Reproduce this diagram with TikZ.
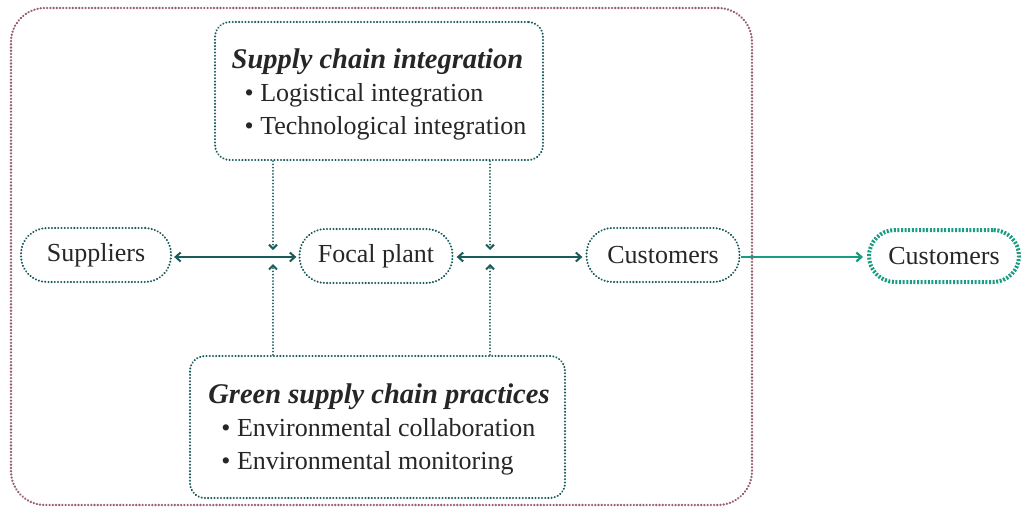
\documentclass[tikz,border=0pt]{standalone}
\usepackage{fontspec}
\setmainfont{Liberation Serif}
\usetikzlibrary{arrows.meta,calc}
\definecolor{mauve}{HTML}{9A5E74}
\definecolor{tealdark}{HTML}{1A5C5C}
\definecolor{tealbright}{HTML}{1A9C82}
\newcommand{\hd}[1]{{\fontsize{28.5}{33}\selectfont\textbf{\textit{#1}}}}
\begin{document}
\begin{tikzpicture}[x=1pt,y=1pt,
  dots/.style={line width=2.3pt,line cap=round,dash pattern=on 0.01pt off 3.2pt},
  box/.style={draw=tealdark,dots,rounded corners=15pt,inner sep=0pt},
  pill/.style={draw=tealdark,dots,rounded corners=26pt,minimum height=54pt,inner sep=0pt},
  link/.style={draw=tealdark,line width=2pt,{Straight Barb[length=5pt,width=9pt]}-{Straight Barb[length=5pt,width=9pt]}},
  vlink/.style={draw=tealdark,dots,line width=2pt,-{Straight Barb[length=4pt,width=8pt,line cap=butt]}},
  txt/.style={font=\fontsize{26}{33}\selectfont,text=black!85}
]
\useasboundingbox (0,0) rectangle (1022,-509);
\node[draw=mauve,dots,line width=2.6pt,rounded corners=34pt,minimum width=741pt,minimum height=497pt,inner sep=0pt] (outer) at (381.5,-256.5) {};
\node[box,minimum width=328pt,minimum height=138pt] (sci) at (379,-91) {};
\node[txt,inner sep=0pt] (scit) at (379,-95)
  {\begin{tabular}{@{}l@{}}\hd{Supply chain integration}\\\hspace{13pt}• Logistical integration\\\hspace{13pt}• Technological integration\end{tabular}};
\node[box,minimum width=375pt,minimum height=142pt] (gscp) at (377.5,-427) {};
\node[txt,inner sep=0pt] (gscpt) at (379,-429.5)
  {\begin{tabular}{@{}l@{}}\hd{Green supply chain practices}\\\hspace{13pt}• Environmental collaboration\\\hspace{13pt}• Environmental monitoring\end{tabular}};
\node[pill,minimum width=150pt,txt] (sup) at (96,-255) {Suppliers};
\node[pill,minimum width=153pt,txt] (focal) at (376,-256) {Focal plant};
\node[pill,minimum width=153pt,txt] (cust) at (663,-255) {Customers};
\node[draw=tealbright,line width=4pt,dash pattern=on 2pt off 1.6pt,rounded corners=26pt,minimum height=52pt,minimum width=150pt,inner sep=0pt,txt] (cust2) at (944,-256) {Customers};
\coordinate (ly) at (0,-257);
\draw[link] ([xshift=2pt]sup.east |- ly) -- ([xshift=-2pt]focal.west |- ly);
\draw[link] ([xshift=3pt]focal.east |- ly) -- ([xshift=-3pt]cust.west |- ly);
\draw[draw=tealbright,line width=2.2pt,-{Straight Barb[length=5pt,width=9pt]}] (cust.east |- ly) -- ([xshift=-4pt]cust2.west |- ly);
\coordinate (d1) at (273,-250);
\coordinate (u1) at (273,-264);
\coordinate (d2) at (490,-250);
\coordinate (u2) at (490,-264);
\draw[vlink] (sci.south -| d1) -- (d1);
\draw[vlink] (gscp.north -| u1) -- (u1);
\draw[vlink] (sci.south -| d2) -- (d2);
\draw[vlink] (gscp.north -| u2) -- (u2);
\end{tikzpicture}
\end{document}
